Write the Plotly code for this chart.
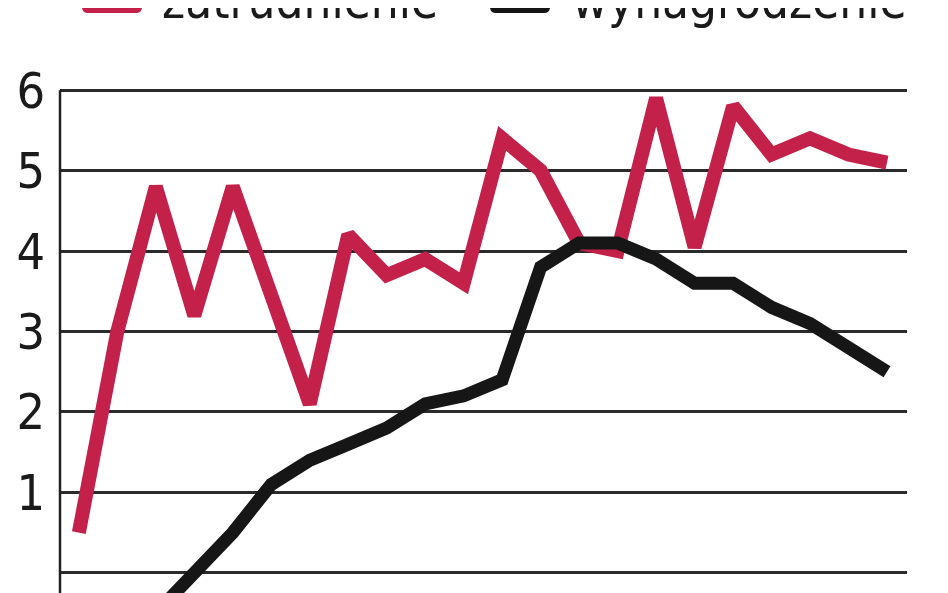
import plotly.graph_objects as go

# okresy (etykiety osi X nie są widoczne na wykresie)
okresy = list(range(1, 23))
zatrudnienie = [0.5, 3.0, 4.8, 3.2, 4.8, 3.45, 2.1, 4.2, 3.7, 3.9, 3.6,
                5.4, 5.0, 4.1, 4.0, 5.9, 4.05, 5.8, 5.2, 5.4, 5.2, 5.1]
wynagrodzenie = [-1.5, -1.0, -0.5, 0.0, 0.5, 1.1, 1.4, 1.6, 1.8, 2.1, 2.2,
                 2.4, 3.8, 4.1, 4.1, 3.9, 3.6, 3.6, 3.3, 3.1, 2.8, 2.5]
y_ticks = [0, 1, 2, 3, 4, 5, 6]

RED = "#c3214a"
BLACK = "#161616"
FONT = "DejaVu Sans Condensed, DejaVu Sans, sans-serif"

# strona ma domyślny margines body 8px, więc figura jest o 8px mniejsza
OFF = 8
W, H = 948 - OFF, 593 - OFF
L, R, T, B = 52, 41, 58, 0
pw, ph = W - L - R, H - T - B


def px_x(x):
    # x w pikselach okna -> paper
    return (x - OFF - L) / pw


def px_y(y):
    # y w pikselach okna -> paper
    return (H - B - (y - OFF)) / ph


def rounded_rect(x0, y0, x1, y1, r):
    X, Y = px_x, px_y
    return (f"M{X(x0 + r)},{Y(y0)} L{X(x1 - r)},{Y(y0)} Q{X(x1)},{Y(y0)} {X(x1)},{Y(y0 + r)} "
            f"L{X(x1)},{Y(y1 - r)} Q{X(x1)},{Y(y1)} {X(x1 - r)},{Y(y1)} "
            f"L{X(x0 + r)},{Y(y1)} Q{X(x0)},{Y(y1)} {X(x0)},{Y(y1 - r)} "
            f"L{X(x0)},{Y(y0 + r)} Q{X(x0)},{Y(y0)} {X(x0 + r)},{Y(y0)} Z")


fig = go.Figure()
fig.add_trace(go.Scatter(x=okresy, y=zatrudnienie, mode="lines", name="zatrudnienie",
                         line=dict(color=RED, width=14)))
fig.add_trace(go.Scatter(x=okresy, y=wynagrodzenie, mode="lines", name="wynagrodzenie",
                         line=dict(color=BLACK, width=13)))

# oś pionowa od dołu do 6
fig.add_shape(type="line", xref="paper", yref="y", x0=0, x1=0, y0=-0.3, y1=6,
              line=dict(color="#222", width=2.5), layer="above")

# legenda (u góry, ucięta)
for x0, x1, col, label, tx in [(82, 142, RED, "zatrudnienie", 160),
                                (490, 550, BLACK, "wynagrodzenie", 570)]:
    fig.add_shape(type="path", xref="paper", yref="paper",
                  path=rounded_rect(x0, -14, x1, 13, 6),
                  fillcolor=col, line=dict(width=0))
    fig.add_annotation(text=label, xref="paper", yref="paper", x=px_x(tx), y=px_y(1),
                       xanchor="left", yanchor="middle", showarrow=False,
                       font=dict(family=FONT, size=49, color="#1a1a1a"))

fig.update_layout(
    width=W, height=H,
    margin=dict(l=L, r=R, t=T, b=B, pad=0),
    paper_bgcolor="white", plot_bgcolor="white",
    showlegend=False,
    xaxis=dict(range=[0.51, 22.52], visible=False),
    yaxis=dict(range=[-0.25, 6.3], tickvals=y_ticks, showgrid=True,
               gridcolor="#2a2a2a", gridwidth=2.5, zeroline=False, showline=False,
               ticks="", ticklabelstandoff=14,
               tickfont=dict(family=FONT, size=50, color="#1a1a1a")),
)

fig.write_html("out.html")
